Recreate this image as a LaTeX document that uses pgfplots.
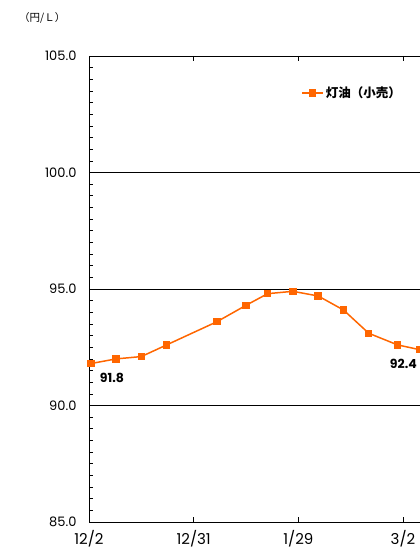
\documentclass[border=0pt]{standalone}
\usepackage{fontspec}
\setmainfont{Poppins}
\newfontfamily\jp{Noto Sans CJK JP}
\usepackage{pgfplots}
\pgfplotsset{compat=1.18}
\definecolor{kero}{RGB}{255,102,0}
\begin{document}
\begin{tikzpicture}
\begin{axis}[
  at={(89pt,27pt)}, anchor=south west,
  scale only axis, width=339.3pt, height=466pt,
  xmin=0, xmax=94, ymin=85, ymax=105,
  xtick={0,29,58,87}, xticklabels={12/2,12/31,1/29,3/2},
  ytick={85,90,95,100,105},
  minor y tick num=9,
  tick align=inside,
  major tick length=5pt, minor tick length=4pt,
  ymajorgrids, grid style={black, line width=0.7pt},
  axis line style={black, line width=0.9pt},
  every tick/.style={black, line width=0.6pt},
  /pgf/number format/assume math mode=true,
  yticklabel={\pgfmathprintnumber[fixed,fixed zerofill,precision=1]{\tick}},
  yticklabel style={font=\fontsize{13}{14}\selectfont, xshift=-9pt},
  xticklabel style={font=\fontsize{15}{16}\selectfont, yshift=-4.5pt},
  legend style={at={(axis description cs:0.625,0.9206)}, anchor=west, draw=none, fill=none, inner sep=0pt, font=\jp\bfseries\fontsize{12.5}{14}\selectfont},
  legend image code/.code={\draw[kero, line width=1.5pt] (0pt,0pt) -- (21pt,0pt); \fill[kero] (7.5pt,-3pt) rectangle (13.5pt,3pt);},
  clip=false,
]
\addplot[kero, line width=1.5pt, mark=square*, mark size=3pt, mark options={solid, fill=kero}] coordinates {
(0.5,91.8) (7.5,92.0) (14.5,92.1) (21.5,92.6) (35.5,93.6) (43.5,94.3) (49.5,94.8) (56.5,94.9) (63.5,94.7) (70.5,94.1) (77.5,93.1) (85.5,92.6) (91.5,92.4)};
\addlegendentry{灯油（小売）}
\node[font=\bfseries\fontsize{12.5}{14}\selectfont] at (axis cs:6.35,91.19) {91.8};
\node[font=\bfseries\fontsize{12.5}{14}\selectfont] at (axis cs:87.1,91.8) {92.4};
\end{axis}
\node[anchor=west, font=\jp\fontsize{10.5}{12}\selectfont, inner sep=0pt] at (19pt,531pt) {（円/Ｌ）};
\pgfresetboundingbox
\useasboundingbox (0pt,0pt) rectangle (420pt,549pt);
\end{tikzpicture}
\end{document}
